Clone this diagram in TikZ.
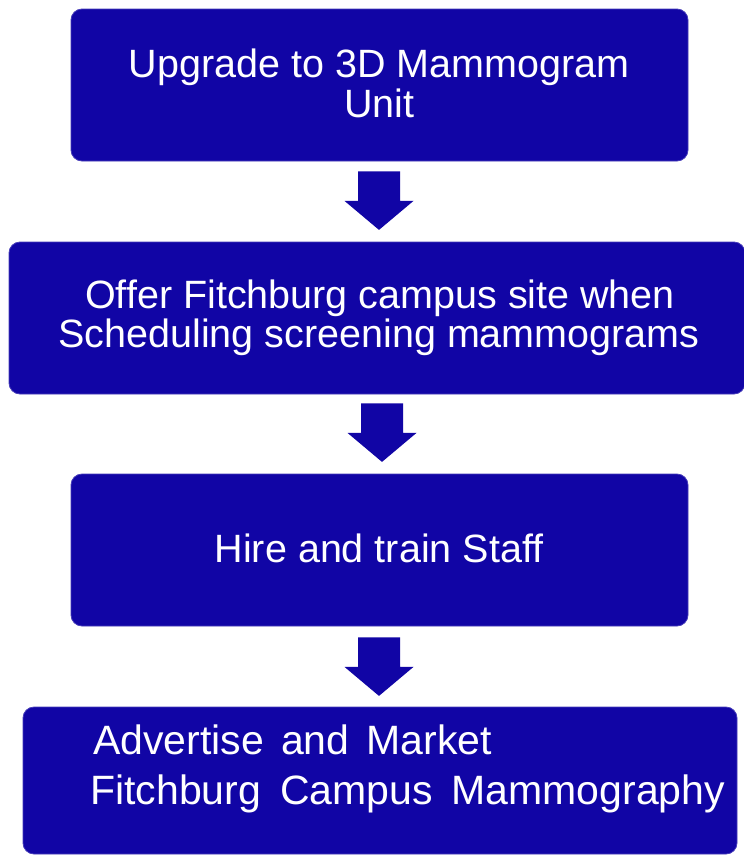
\documentclass[tikz,border=0pt]{standalone}
\usepackage{fontspec}
\setmainfont{Liberation Sans}
\usetikzlibrary{calc}
\definecolor{boxblue}{RGB}{17,5,165}
\definecolor{edgeblue}{RGB}{70,60,185}
\begin{document}
\begin{tikzpicture}[x=1pt,y=-1pt,
  stepbox/.style={fill=boxblue, draw=edgeblue, line width=0.8pt, rounded corners=11pt, inner sep=0pt},
  txt/.style={text=white, font=\fontsize{39.5}{40}\selectfont, inner sep=0pt},
  bigtxt/.style={txt, font=\fontsize{41}{42}\selectfont},
  blockarr/.style={fill=boxblue}]
\useasboundingbox[fill=white] (0,0) rectangle (744,855);
% boxes
\node[stepbox, minimum width=617pt, minimum height=152pt] (b1) at (379.5,85) {};
\node[stepbox, minimum width=736pt, minimum height=152pt] (b2) at (377,318) {};
\node[stepbox, minimum width=617pt, minimum height=152pt] (b3) at (379.5,550) {};
\node[stepbox, minimum width=714pt, minimum height=147pt] (b4) at (380,780.5) {};
% texts
\node[txt, anchor=base] (t1a) at (379,77) {Upgrade to 3D Mammogram};
\node[txt, anchor=base] (t1b) at (379.5,117) {Unit};
\node[txt, anchor=base] (t2a) at (380,308) {Offer Fitchburg campus site when};
\node[txt, anchor=base] (t2b) at (379,347) {Scheduling screening mammograms};
\node[txt, anchor=base] (t3) at (379,562) {Hire and train Staff};
\node[bigtxt, anchor=base west] (t4a) at (93,754) {Advertise\hspace{17pt}and\hspace{17pt}Market};
\node[bigtxt, anchor=base west] (t4b) at (90,804) {Fitchburg\hspace{19pt}Campus\hspace{19pt}Mammography};
% block arrows
\coordinate (a1) at ($(b1.south)+(-0.5,10)$);
\coordinate (a2) at ($(b2.south)+(5,9)$);
\coordinate (a3) at ($(b3.south)+(-0.5,11)$);
\foreach \a in {a1,a2,a3}{
  \fill[blockarr] (\a) ++(-21,0) -- ++(42,0) -- ++(0,29.5) -- ++(13.5,0)
    -- ++(-34.5,29) -- ++(-34.5,-29) -- ++(13.5,0) -- cycle;
}
\end{tikzpicture}
\end{document}
